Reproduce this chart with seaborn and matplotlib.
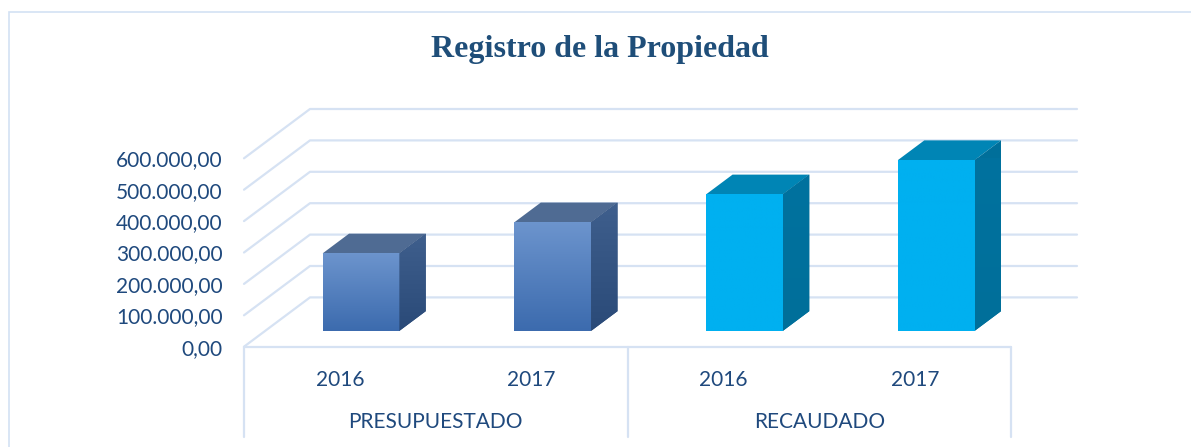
import numpy as np
import pandas as pd
import seaborn as sns
import matplotlib.pyplot as plt
from matplotlib import transforms
from matplotlib.patches import Polygon, Rectangle
from matplotlib.ticker import FuncFormatter

# datos
grupos = ["PRESUPUESTADO", "PRESUPUESTADO", "RECAUDADO", "RECAUDADO"]
anios = ["2016", "2017", "2016", "2017"]
valores = [247000, 346000, 435000, 544000]
ticks_y = [0, 100000, 200000, 300000, 400000, 500000, 600000]
titulo = "Registro de la Propiedad"

df = pd.DataFrame({"grupo": grupos, "anio": anios, "valor": valores})
df["clave"] = df["grupo"] + " " + df["anio"]

sns.set_style("white")
plt.rcParams["font.family"] = ["Lato", "DejaVu Sans"]

texto = "#1F497D"
rejilla = "#D6E2F3"

fig = plt.figure(figsize=(11.91, 4.47), dpi=100)
ax = fig.add_axes([244 / 1191, 100.3 / 447, 767 / 1191, 188.4 / 447])

sns.barplot(data=df, x="clave", y="valor", hue="grupo",
            palette=["#4A7BC0", "#00B0F0"], dodge=False, width=0.4,
            saturation=1, legend=False, ax=ax)
ax.set_xlim(-0.5, 3.5)
ax.set_ylim(0, 600000)
ax.set_autoscale_on(False)
ax.set_xlabel("")
ax.set_ylabel("")
sns.despine(ax=ax, left=True, bottom=True)

# profundidad del "3D" en pixeles (fondo de la caja)
W = np.array([66, 49.3])
d0, d1 = 0.32, 0.72  # frente y fondo de las barras


def pt(x, y, d):
    p = ax.transData.transform((x, y)) + d * W
    return ax.transData.inverted().transform(p)


# paredes y rejilla
for t in ticks_y:
    a, b, c = pt(-0.5, t, 0), pt(-0.5, t, 1), pt(3.5, t, 1)
    ax.plot([a[0], b[0], c[0]], [a[1], b[1], c[1]], color=rejilla,
            lw=1.6, clip_on=False, zorder=0)
ax.plot([-0.5, 3.5], [0, 0], color=rejilla, lw=1.6, clip_on=False, zorder=0)

xt = transforms.blended_transform_factory(ax.transData, ax.transAxes)
for x in [-0.5, 1.5, 3.5]:
    ax.plot([x, x], [0, -0.48], color=rejilla, lw=1.6, transform=xt,
            clip_on=False, zorder=0)

# caras de las barras
estilos = {
    "PRESUPUESTADO": dict(frente=("#6C94CD", "#3C6BAE"), tapa="#4F6B93",
                          lado=("#3F5F8D", "#2A4A78")),
    "RECAUDADO": dict(frente=("#00B0F0", "#00B0F0"), tapa="#0085B5",
                      lado=("#00729F", "#006F9A")),
}


def degradado(c_arriba, c_abajo, extent, clip):
    c1 = np.array(plt.matplotlib.colors.to_rgb(c_arriba))
    c2 = np.array(plt.matplotlib.colors.to_rgb(c_abajo))
    f = np.linspace(0, 1, 64)[:, None]
    img = (c1 * (1 - f) + c2 * f)[:, None, :]
    im = ax.imshow(img, extent=extent, aspect="auto", origin="upper",
                   zorder=3, interpolation="bilinear")
    im.set_clip_path(clip)
    return im


barras = [b for cont in ax.containers for b in cont]
barras.sort(key=lambda b: b.get_x())
for bar, g in zip(barras, grupos):
    est = estilos[g]
    x0, w, h = bar.get_x(), bar.get_width(), bar.get_height()
    nx, ny = pt(x0, 0, d0)
    bar.set_xy((nx, ny))
    bar.set_zorder(3)
    bar.set_clip_on(False)
    bar.set_edgecolor("none")

    tapa = Polygon([pt(x0, h, d0), pt(x0 + w, h, d0), pt(x0 + w, h, d1),
                    pt(x0, h, d1)], closed=True, facecolor=est["tapa"],
                   edgecolor="none", zorder=2, clip_on=False)
    ax.add_patch(tapa)
    lado = Polygon([pt(x0 + w, 0, d0), pt(x0 + w, 0, d1), pt(x0 + w, h, d1),
                    pt(x0 + w, h, d0)], closed=True, facecolor=est["lado"][1],
                   edgecolor="none", zorder=2, clip_on=False)
    ax.add_patch(lado)

    degradado(*est["frente"], [nx, nx + w, ny, ny + h], bar)
    ls = np.array(lado.get_xy())
    degradado(*est["lado"], [ls[:, 0].min(), ls[:, 0].max(),
                             ls[:, 1].min(), ls[:, 1].max()], lado)

ax.set_xlim(-0.5, 3.5)
ax.set_ylim(0, 600000)

# ejes
ax.set_yticks(ticks_y)
ax.yaxis.set_major_formatter(FuncFormatter(
    lambda v, p: f"{v:,.2f}".replace(",", "X").replace(".", ",").replace("X", ".")))
ax.tick_params(axis="y", length=0, pad=15.5, labelsize=15, labelcolor=texto)
ax.set_xticks(range(len(anios)))
ax.set_xticklabels(anios)
ax.tick_params(axis="x", length=0, pad=17, labelsize=15, labelcolor=texto)

for x, g in [(0.5, "PRESUPUESTADO"), (2.5, "RECAUDADO")]:
    ax.text(x, -0.40, g, transform=xt, ha="center", va="center",
            fontsize=15, color=texto)

fig.text(600 / 1191, 1 - 50 / 447, titulo, ha="center", va="center",
         family="Liberation Serif", weight="bold", fontsize=23, color="#1F4E79")

fig.add_artist(Rectangle((9 / 1191, -0.05), 1.1, 1 - 12 / 447 + 0.05,
                         transform=fig.transFigure, fill=False,
                         edgecolor="#D3E1F3", lw=1.2))

fig.savefig("out.png", dpi=100)
